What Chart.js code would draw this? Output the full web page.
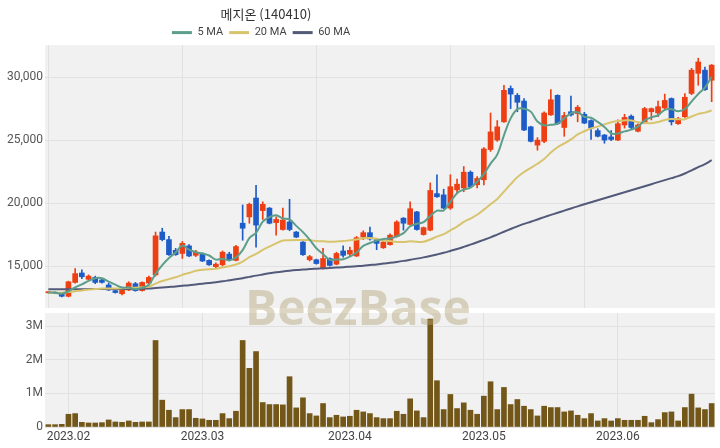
<!DOCTYPE html>
<html lang="ko">
<head>
<meta charset="utf-8">
<script src="https://cdn.jsdelivr.net/npm/chart.js@4"></script>
<style>
  html, body { margin: 0; padding: 0; background: #ffffff; }
  #wrap { position: relative; width: 720px; height: 448px; overflow: hidden; }
  #top { position: absolute; left: 0; top: 0; width: 720px; height: 310px; }
  #bot { position: absolute; left: 0; top: 310px; width: 720px; height: 138px; }
  #wm { position: absolute; left: 245px; top: 283px; font: bold 48px "Open Sans", sans-serif; line-height: 48px;
        color: rgba(180,165,120,0.45); pointer-events: none; white-space: nowrap; }
</style>
</head>
<body>
<div id="wrap">
  <div id="top"><canvas id="cTop"></canvas></div>
  <div id="bot"><canvas id="cBot"></canvas></div>
  <div id="wm">BeezBase</div>
</div>
<script>
const title = "메지온 (140410)";
const dates = [
 "2023-01-27","2023-01-30","2023-01-31",
 "2023-02-01","2023-02-02","2023-02-03","2023-02-06","2023-02-07","2023-02-08","2023-02-09","2023-02-10",
 "2023-02-13","2023-02-14","2023-02-15","2023-02-16","2023-02-17","2023-02-20","2023-02-21","2023-02-22",
 "2023-02-23","2023-02-24","2023-02-27","2023-02-28",
 "2023-03-02","2023-03-03","2023-03-06","2023-03-07","2023-03-08","2023-03-09","2023-03-10","2023-03-13",
 "2023-03-14","2023-03-15","2023-03-16","2023-03-17","2023-03-20","2023-03-21","2023-03-22","2023-03-23",
 "2023-03-24","2023-03-27","2023-03-28","2023-03-29","2023-03-30","2023-03-31",
 "2023-04-03","2023-04-04","2023-04-05","2023-04-06","2023-04-07","2023-04-10","2023-04-11","2023-04-12",
 "2023-04-13","2023-04-14","2023-04-17","2023-04-18","2023-04-19","2023-04-20","2023-04-21","2023-04-24",
 "2023-04-25","2023-04-26","2023-04-27","2023-04-28",
 "2023-05-02","2023-05-03","2023-05-04","2023-05-08","2023-05-09","2023-05-10","2023-05-11","2023-05-12",
 "2023-05-15","2023-05-16","2023-05-17","2023-05-18","2023-05-19","2023-05-22","2023-05-23","2023-05-24",
 "2023-05-25","2023-05-26","2023-05-30","2023-05-31",
 "2023-06-01","2023-06-02","2023-06-05","2023-06-07","2023-06-08","2023-06-09","2023-06-12","2023-06-13",
 "2023-06-14","2023-06-15","2023-06-16","2023-06-19","2023-06-20","2023-06-21","2023-06-22"
];
const openP = [
 12880,12900,12800,12600,13700,14450,13950,14100,13900,13500,
 13050,12800,13100,13600,13050,13650,14300,17700,17100,16250,
 16000,16600,15850,16000,15450,14950,15100,15950,15450,18400,
 18900,20400,19400,19600,18450,17900,18500,17700,16900,15500,
 15500,14850,15600,15150,16200,15950,15800,17300,17650,17100,
 16450,16700,17350,18800,18300,19300,17500,17850,20750,20650,
 19600,21050,21200,22450,21450,21850,24250,25000,26450,29100,
 28550,28100,26050,24600,24900,27000,28550,26000,27250,27100,
 27050,26550,25750,25400,25250,25000,26200,26900,25700,26350,
 27250,27150,27550,28300,26300,26850,28700,30300,30550,29750
];
const highP = [
 13000,12950,12850,13800,14800,14700,14300,14200,13950,13650,
 13100,13200,13750,13700,13750,14200,17700,18000,17350,16400,
 16950,16700,16250,16050,15500,15250,16200,16100,16650,19850,
 20000,21400,20100,19650,18900,19600,20300,17750,16950,15850,
 15550,16400,15650,16100,16600,16500,17350,17800,18100,17200,
 16950,17550,18600,18850,20100,19350,18100,21600,22250,21100,
 22250,21900,22900,22550,22100,24400,27150,26550,29350,29300,
 28700,28300,26100,25200,27250,29000,28600,27200,28500,27750,
 27200,26600,25900,25450,25750,26600,27050,27000,26300,27600,
 27550,28100,28650,28350,26800,28700,30700,31500,30800,31000
];
const lowP = [
 12850,12800,12550,12550,13650,14000,13900,13600,13650,13050,
 12850,12700,13050,13000,13000,13600,14200,17000,15850,15850,
 15600,15750,15750,15350,15050,14850,15000,15450,15400,17050,
 18400,16500,18700,18350,17450,17850,17800,17250,15850,15400,
 15150,14750,15000,15100,15700,15750,15750,17100,17050,16300,
 16400,16650,17300,17850,18250,17850,17450,17800,20450,19550,
 19500,20800,20900,21250,21200,21450,24100,24900,26400,27500,
 27250,25750,24850,24200,24800,26950,26250,25300,26900,26450,
 26300,25050,25250,24750,24950,24950,25950,25900,25650,26300,
 26600,26850,27400,26200,26250,26800,28600,29350,28950,28050
];
const closeP = [
 12950,12850,12600,13750,14400,14150,14200,13700,13700,13100,
 12900,13100,13650,13050,13700,14100,17400,17100,15900,15900,
 16800,15800,16100,15400,15100,15150,16100,15500,16550,18000,
 19900,18250,19900,18400,18700,18650,17900,17300,15900,15750,
 15200,15600,15050,16000,15850,16250,17250,17650,17150,16800,
 16900,17450,18500,18400,19550,17900,18050,21000,20500,19600,
 21300,21500,22450,21300,21950,24300,25650,26050,28950,28650,
 28000,25800,24900,25000,27150,28200,26300,26950,27000,27600,
 26350,25950,25300,25000,25050,26300,26800,26000,26200,27500,
 27500,27650,28150,26450,26700,28400,30550,31200,29000,30950
];
const ma5 = [
 12900,12880,12800,13000,13310,13550,13820,14040,14030,13770,
 13520,13300,13290,13160,13280,13520,14380,15070,15640,16080,
 16620,16300,16100,16000,15840,15510,15570,15450,15680,16260,
 17210,17640,18520,18890,19030,18780,18710,18190,17690,17100,
 16410,15950,15500,15520,15540,15750,16080,16600,16830,17020,
 17150,17190,17360,17610,18160,18360,18480,18980,19400,19410,
 20090,20780,21070,21230,21700,22300,23130,23850,25380,26720,
 27460,27490,27260,26470,26170,26210,26310,26720,27120,27210,
 26840,26770,26440,26040,25530,25520,25690,25830,26070,26560,
 26800,26970,27400,27450,27290,27470,28050,28660,29170,30020
];
const ma20 = [
 12900,12900,12880,12930,13000,13060,13130,13170,13210,13220,
 13220,13230,13270,13270,13310,13370,13600,13810,13960,14110,
 14300,14450,14620,14710,14740,14790,14890,14980,15120,15360,
 15710,15970,16280,16550,16800,17030,17050,17060,17060,17060,
 16980,16970,16920,16950,16980,17040,17100,17200,17230,17170,
 17020,16980,16910,16910,16960,16920,16930,17110,17340,17530,
 17840,18130,18500,18770,19070,19480,19900,20320,20910,21500,
 22060,22470,22790,23120,23500,24020,24430,24730,25050,25450,
 25700,25930,26070,26250,26410,26510,26560,26560,26420,26370,
 26340,26430,26600,26670,26650,26660,26870,27080,27180,27350
];
const ma60 = [
 13150,13150,13150,13150,13160,13160,13170,13170,13170,13180,
 13180,13180,13190,13190,13200,13220,13260,13300,13340,13380,
 13430,13480,13540,13600,13660,13720,13790,13870,13950,14040,
 14140,14240,14330,14420,14500,14570,14630,14680,14720,14760,
 14790,14820,14850,14880,14910,14950,14990,15030,15080,15130,
 15200,15260,15330,15410,15500,15590,15690,15800,15920,16050,
 16200,16350,16520,16700,16890,17080,17280,17500,17720,17940,
 18150,18350,18520,18700,18880,19060,19230,19400,19570,19740,
 19900,20060,20220,20380,20540,20700,20860,21020,21180,21340,
 21500,21660,21820,21980,22140,22350,22600,22850,23100,23400
];
const volume = [
 70000,70000,80000,380000,400000,140000,120000,120000,130000,210000,
 150000,140000,180000,140000,150000,150000,2580000,800000,500000,280000,
 520000,520000,260000,240000,200000,200000,400000,250000,470000,2580000,
 1750000,2250000,730000,670000,670000,660000,1500000,570000,870000,400000,
 330000,700000,280000,350000,300000,320000,500000,450000,400000,280000,
 250000,250000,470000,380000,840000,480000,280000,3220000,1380000,520000,
 970000,550000,720000,500000,380000,920000,1350000,520000,1180000,670000,
 820000,620000,520000,330000,620000,580000,580000,450000,480000,350000,
 250000,400000,180000,250000,180000,250000,200000,200000,200000,320000,
 130000,220000,430000,450000,180000,580000,980000,570000,520000,700000
];
const priceTicks = [15000, 20000, 25000, 30000];
const volTicks = [0, 1000000, 2000000, 3000000];

const UP = '#ee3f14', DOWN = '#1d5cc6';
const C5 = '#5c9e8b', C20 = '#d8c46c', C60 = '#535a79';
const VOLC = '#735719';
const GRID = '#e1e1e1', BG = '#f1f1f1', TXT = '#555555';
const FONT = 'Roboto, "Noto Sans", sans-serif';

const candleColors = closeP.map((c, i) => c >= openP[i] ? UP : DOWN);
const bodies = openP.map((o, i) => [o, closeP[i]]);
const wicks = lowP.map((l, i) => [l, highP[i]]);

const isMonthStart = i => i > 0 && dates[i].slice(5, 7) !== dates[i - 1].slice(5, 7);
const noPad = s => { s.paddingTop = 0; s.paddingBottom = 0; s.paddingLeft = 0; s.paddingRight = 0; };

const bgPlugin = {
  id: 'plotBg',
  beforeDraw(chart) {
    const a = chart.chartArea, ctx = chart.ctx;
    ctx.save(); ctx.fillStyle = BG; ctx.fillRect(a.left, a.top, a.right - a.left, a.bottom - a.top); ctx.restore();
  }
};
const headerPlugin = {
  id: 'header',
  afterLayout(chart) {
    const t = chart.titleBlock, l = chart.legend;
    if (t) { t.left = 0; t.right = 532; }
    if (l) { l.left = 0; l.right = 522; l.top += 3; l.bottom += 3; }
  }
};

Chart.defaults.animation = false;
Chart.defaults.font.family = FONT;

new Chart(document.getElementById('cTop'), {
  type: 'bar',
  data: {
    labels: dates,
    datasets: [
      { type: 'line', label: '5 MA', data: ma5, borderColor: C5, backgroundColor: C5, borderWidth: 2, pointRadius: 0, tension: 0.35, order: 0 },
      { type: 'line', label: '20 MA', data: ma20, borderColor: C20, backgroundColor: C20, borderWidth: 2, pointRadius: 0, tension: 0.35, order: 0 },
      { type: 'line', label: '60 MA', data: ma60, borderColor: C60, backgroundColor: C60, borderWidth: 2, pointRadius: 0, tension: 0.35, order: 0 },
      { label: 'body', data: bodies, backgroundColor: candleColors, barThickness: 5, minBarLength: 1, grouped: false, order: 1 },
      { label: 'wick', data: wicks, backgroundColor: candleColors, barThickness: 1, grouped: false, order: 2 }
    ]
  },
  options: {
    responsive: true, maintainAspectRatio: false,
    layout: { padding: { left: 0, right: 5, top: 0, bottom: 2 } },
    plugins: {
      title: { display: true, text: title, color: '#333333',
               font: { size: 13, family: '"Noto Sans CJK KR", sans-serif', weight: 'normal' },
               padding: { top: 6, bottom: -3.5 } },
      legend: {
        display: true,
        labels: {
          boxWidth: 20, boxHeight: 3, padding: 6, color: '#444444', font: { size: 11 },
          generateLabels: chart => chart.data.datasets.slice(0, 3).map((d, i) => ({
            text: d.label, fillStyle: d.borderColor, strokeStyle: d.borderColor, lineWidth: 0,
            hidden: false, datasetIndex: i, fontColor: '#444444'
          }))
        }
      },
      tooltip: { enabled: false }
    },
    scales: {
      x: {
        grid: { color: c => (c.index % 20 === 0 ? GRID : 'rgba(0,0,0,0)'), offset: false, drawTicks: false },
        ticks: { display: false, autoSkip: false },
        border: { display: false },
        afterFit: s => { s.height = 0; noPad(s); }
      },
      y: {
        min: 11670, max: 32540,
        afterBuildTicks: s => { s.ticks = priceTicks.map(v => ({ value: v })); },
        ticks: { callback: v => v.toLocaleString('en-US'), color: TXT, font: { size: 12 }, padding: 2 },
        grid: { color: GRID, drawTicks: false },
        border: { display: false },
        afterFit: s => { s.width = 45; noPad(s); }
      }
    }
  },
  plugins: [bgPlugin, headerPlugin]
});

new Chart(document.getElementById('cBot'), {
  type: 'bar',
  data: {
    labels: dates,
    datasets: [ { label: 'Volume', data: volume, backgroundColor: VOLC, barThickness: 5 } ]
  },
  options: {
    responsive: true, maintainAspectRatio: false,
    layout: { padding: { left: 0, right: 5, top: 3, bottom: 0 } },
    plugins: { legend: { display: false }, title: { display: false }, tooltip: { enabled: false } },
    scales: {
      x: {
        grid: { color: c => (isMonthStart(c.index) ? GRID : 'rgba(0,0,0,0)'), offset: false, drawTicks: false },
        ticks: { autoSkip: false, maxRotation: 0, minRotation: 0, padding: 3, color: '#444444', font: { size: 12 },
                 callback: (v, i) => isMonthStart(i) ? dates[i].slice(0, 4) + '.' + dates[i].slice(5, 7) : '' },
        border: { display: false },
        afterFit: s => { s.height = 21; noPad(s); }
      },
      y: {
        min: 0, max: 3400000,
        afterBuildTicks: s => { s.ticks = volTicks.map(v => ({ value: v })); },
        ticks: { callback: v => (v === 0 ? '0' : (v / 1000000) + 'M'), color: TXT, font: { size: 12 }, padding: 2 },
        grid: { color: GRID, drawTicks: false },
        border: { display: false },
        afterFit: s => { s.width = 45; noPad(s); }
      }
    }
  },
  plugins: [bgPlugin]
});
</script>
</body>
</html>
